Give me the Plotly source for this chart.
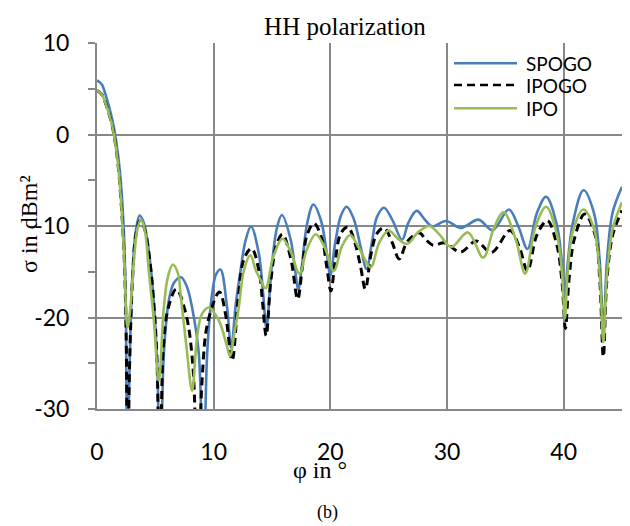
import plotly.graph_objects as go

# ---- data ----
phi_spogo = [0, 0.4, 0.75, 1.33, 1.76, 2.1, 2.33, 2.47, 2.6, 2.75, 3.04, 3.33, 3.65, 4.0, 4.47, 4.9, 5.18, 5.42,
             5.6, 5.73, 6.16, 6.6, 7.2, 7.7, 8.15, 8.73, 9.1, 9.44, 9.87, 10.2, 10.58, 11.15, 11.5, 11.9, 12.3,
             12.73, 13.2, 13.87, 14.24, 14.52, 15.0, 15.44, 15.85, 16.6, 17.0, 17.25, 17.55, 18.0, 18.55, 19.2,
             19.7, 20.0, 20.4, 20.9, 21.4, 22.0, 22.6, 23.1, 23.6, 24.0, 24.6, 25.3, 26.15, 26.7, 27.4, 28.1,
             28.75, 29.9, 31.2, 32.7, 33.9, 35.3, 36.1, 36.9, 37.7, 38.5, 39.4, 39.85, 40.1, 40.35, 40.8, 41.7,
             42.6, 43.1, 43.4, 43.7, 44.2, 45]
sigma_spogo = [5.9, 5.5, 4.3, 1.5, -1.8, -6.1, -11.6, -19, -40, -28, -15.2, -10.5, -8.85, -9.6, -13, -18.9, -26,
               -40, -29, -24, -18.1, -16.2, -15.6, -16.6, -18.9, -24, -40, -24, -17.4, -15.3, -14.75, -18.9,
               -23.3, -18.5, -14.9, -11.6, -10.05, -13, -17.4, -21.1, -14.1, -10.1, -8.8, -11.5, -15, -17,
               -14.5, -9.8, -7.65, -9.4, -13, -15.4, -12, -8.9, -7.9, -9.2, -12.3, -14.7, -11.5, -9.0, -8.0,
               -9.3, -11.5, -9.6, -8.35, -9.3, -10.05, -9.45, -10.2, -9.3, -10.45, -8.2, -10, -12.5, -8.6,
               -6.8, -9.8, -14, -17.9, -14, -9.6, -6.1, -8.6, -14, -22, -14, -8.5, -5.7]

phi_ipogo = [0, 0.4, 0.75, 1.33, 1.76, 2.04, 2.33, 2.5, 2.62, 2.78, 3.04, 3.33, 3.7, 4.05, 4.5, 4.9, 5.15, 5.35,
             5.52, 5.7, 6.1, 6.8, 7.6, 8.2, 8.65, 9.0, 9.5, 10.5, 11.0, 11.58, 12.1, 12.6, 13.25, 13.9, 14.2,
             14.5, 14.9, 15.4, 15.9, 16.6, 17.2, 17.6, 18.0, 18.6, 19.3, 19.7, 20.05, 20.4, 20.9, 21.5, 22.1,
             22.6, 23.0, 23.5, 24.0, 24.6, 25.3, 25.9, 26.6, 27.6, 28.2, 28.8, 29.8, 31.15, 32.5, 33.8, 35.4,
             36.2, 36.9, 37.7, 38.6, 39.4, 39.85, 40.15, 40.45, 40.9, 41.8, 42.7, 43.1, 43.4, 43.7, 44.2, 45]
sigma_ipogo = [4.8, 4.4, 3.35, 0.8, -2.8, -6.9, -13.4, -22, -40, -26, -16, -11, -9.4, -10.2, -13.5, -19, -25,
               -40, -30, -23, -19, -16.9, -19.5, -25, -40, -27, -20.5, -17.2, -19.5, -24.7, -18, -13.6, -12.45,
               -15, -18.5, -22, -16, -12, -10.9, -13.5, -18, -14.5, -11, -9.7, -11.5, -14.5, -17.1, -14, -10.8,
               -10.1, -11.8, -14.5, -16.9, -13, -10.8, -10.2, -11.8, -13.6, -11.7, -10.75, -11.5, -12.1,
               -11.85, -12.85, -11.65, -12.9, -10.5, -12.3, -14.9, -11, -9.4, -12, -16, -21.2, -16, -11.5,
               -8.7, -11, -16, -24.3, -16, -11, -8.3]

phi_ipo = [0, 0.4, 0.75, 1.33, 1.76, 2.04, 2.33, 2.61, 2.87, 3.16, 3.44, 3.75, 4.1, 4.44, 4.87, 5.3, 5.73, 6.07,
           6.5, 6.95, 7.16, 7.67, 8.15, 8.58, 9.0, 9.6, 10.1, 10.58, 11.15, 11.4, 11.8, 12.15, 12.58, 13.15,
           13.6, 13.95, 14.45, 15.1, 15.9, 16.6, 17.35, 18.0, 18.75, 19.5, 20.3, 21.0, 21.7, 22.5, 23.45, 24.2,
           25.0, 25.8, 26.6, 27.5, 28.5, 29.4, 30.35, 31.8, 33.1, 34.0, 34.85, 35.9, 36.7, 37.6, 38.5, 39.4,
           39.85, 40.1, 40.35, 40.8, 41.7, 42.6, 43.1, 43.4, 43.7, 44.2, 45]
sigma_ipo = [4.8, 4.4, 3.35, 0.8, -2.8, -6.9, -13.4, -21.1, -18.9, -13.8, -10.5, -9.3, -10.5, -14.9, -20.3,
             -26.9, -18.9, -15.6, -14.2, -15.2, -17.4, -23.2, -28, -22.1, -19.6, -18.9, -19.6, -20.7, -23.2,
             -24.2, -21.5, -18.9, -14.9, -13.2, -14.8, -15.7, -16.8, -13.4, -11.4, -12.8, -15.2, -12.5, -10.9,
             -12.3, -14.9, -12.2, -11.0, -12.5, -14.5, -11.8, -10.5, -11.4, -11.95, -10.7, -10.0, -11.0, -12.3,
             -10.7, -13.45, -10.3, -8.5, -11.5, -15.2, -10, -7.9, -10.8, -15, -20.1, -15, -10.5, -8.2, -10.3,
             -15.5, -22.7, -15.5, -10.3, -7.4]

series_names = ["SPOGO", "IPOGO", "IPO"]
x_ticks = [0, 10, 20, 30, 40]
y_ticks = [-30, -20, -10, 0, 10]

# ---- styles ----
colors = ["#4a7ebb", "#000000", "#98bb56"]
widths = [2.6, 3.0, 2.6]
dashes = ["solid", "8px,5px", "solid"]
grid_col = "#878787"
tick_font = dict(family="Lato, 'Open Sans', sans-serif", size=23, color="#000000")
serif = "'Liberation Serif', 'Times New Roman', serif"

fig = go.Figure()
for name, xs, ys, c, w, d in zip(series_names,
                                 [phi_spogo, phi_ipogo, phi_ipo],
                                 [sigma_spogo, sigma_ipogo, sigma_ipo],
                                 colors, widths, dashes):
    fig.add_trace(go.Scatter(x=xs, y=ys, mode="lines", name=name,
                             line=dict(color=c, width=w, dash=d, shape="spline", smoothing=1.0),
                             showlegend=False, hoverinfo="skip"))

fig.update_layout(
    width=630, height=526,
    margin=dict(l=97, r=8, t=43, b=117, pad=0),
    paper_bgcolor="white", plot_bgcolor="white",
    title=dict(text="HH polarization", xref="container", x=345 / 630, xanchor="center",
               yref="container", y=1 - 26 / 526, yanchor="middle",
               font=dict(family=serif, size=25, color="#000000")),
)

fig.update_xaxes(range=[0, 45], tickvals=x_ticks, ticktext=[str(v) for v in x_ticks],
                 showgrid=True, gridcolor=grid_col, gridwidth=2,
                 showline=True, linecolor=grid_col, linewidth=2,
                 zeroline=False, ticks="", tickfont=tick_font, ticklabelstandoff=21)
fig.update_yaxes(range=[-30, 10], tickvals=y_ticks, ticktext=[str(v) for v in y_ticks],
                 showgrid=True, gridcolor=grid_col, gridwidth=2,
                 showline=True, linecolor=grid_col, linewidth=2,
                 zeroline=False, ticks="outside", ticklen=7, tickcolor=grid_col, tickwidth=2,
                 minor=dict(dtick=5, tick0=0, ticks="outside", ticklen=7, tickcolor=grid_col,
                            tickwidth=2, showgrid=False),
                 tickfont=tick_font, ticklabelstandoff=14)

# legend drawn as text + sample lines (no background, as in the reference)
leg_y = [0.9445, 0.8852, 0.8216]
for name, c, d, yy in zip(series_names, colors, dashes, leg_y):
    fig.add_shape(type="line", xref="paper", yref="paper", x0=0.680, x1=0.800, y0=yy, y1=yy,
                  line=dict(color=c, width=2.6, dash=d))
    fig.add_annotation(text=name, xref="paper", yref="paper", x=0.8133, y=yy,
                       xanchor="left", yanchor="middle", showarrow=False,
                       font=dict(family="Lato, 'Open Sans', sans-serif", size=19, color="#000000"))

fig.add_annotation(text="σ in dBm²", xref="paper", yref="paper", x=(29 - 97) / 525, y=0.503,
                   textangle=-90, xanchor="center", yanchor="middle", showarrow=False,
                   font=dict(family=serif, size=24, color="#000000"))
fig.add_annotation(text="φ in °", xref="paper", yref="paper", x=(320 - 97) / 525, y=(409 - 470) / 366,
                   xanchor="center", yanchor="middle", showarrow=False,
                   font=dict(family=serif, size=24, color="#000000"))
fig.add_annotation(text="(b)", xref="paper", yref="paper", x=(327 - 97) / 525, y=(409 - 512) / 366,
                   xanchor="center", yanchor="middle", showarrow=False,
                   font=dict(family=serif, size=18, color="#000000"))

fig.write_html("out.html", config={"displayModeBar": False},
               post_script="document.body.style.margin='0';document.body.style.padding='0';")
